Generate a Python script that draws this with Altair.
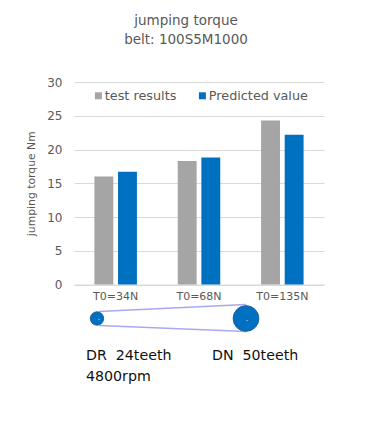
import altair as alt
import pandas as pd

FONT = "DejaVu Sans"
conditions = ["T0=34N", "T0=68N", "T0=135N"]
test_results = [16.0, 18.3, 24.3]
predicted = [16.7, 18.8, 22.2]
series = ["test results", "Predicted value"]
colors = ["#A5A5A5", "#0070C0"]
title_lines = ["jumping torque", "belt: 100S5M1000"]

rows = []
for c, a, b in zip(conditions, test_results, predicted):
    rows.append({"cond": c, "series": series[0], "v": a})
    rows.append({"cond": c, "series": series[1], "v": b})
df = pd.DataFrame(rows)

bars = alt.Chart(df).mark_bar().encode(
    x=alt.X("cond:N", sort=conditions, title=None,
            scale=alt.Scale(paddingInner=0.49, paddingOuter=0.245),
            axis=alt.Axis(labelAngle=0, labelFont=FONT, labelFontSize=11, labelColor="#595959",
                          ticks=False, domain=True, domainColor="#D9D9D9", labelPadding=6)),
    xOffset=alt.XOffset("series:N", sort=series, scale=alt.Scale(paddingInner=0.2)),
    y=alt.Y("v:Q", title="jumping torque Nm",
            scale=alt.Scale(domain=[0, 30]),
            axis=alt.Axis(values=[0, 5, 10, 15, 20, 25, 30], ticks=False, domain=False,
                          grid=True, gridColor="#D9D9D9",
                          labelFont=FONT, labelFontSize=12, labelColor="#595959", labelPadding=12,
                          titleFont=FONT, titleFontSize=10.8, titleFontWeight="normal",
                          titleColor="#595959", titlePadding=10)),
    color=alt.Color("series:N", sort=series, scale=alt.Scale(domain=series, range=colors),
                    legend=alt.Legend(title=None, orient="none", direction="horizontal",
                                      legendX=18, legendY=7, symbolType="square", symbolSize=49,
                                      labelFont=FONT, labelFontSize=12.8, labelColor="#595959",
                                      labelOffset=0, columnPadding=19, symbolStrokeWidth=0)),
)

one = alt.Data(values=[{}])
OX, OY = 74, 82.5

def belt(x1, y1, x2, y2):
    return alt.Chart(one).mark_rule(color="#A9A9F0", strokeWidth=1.5).encode(
        x=alt.value(x1 - OX), x2=alt.value(x2 - OX), y=alt.value(y1 - OY), y2=alt.value(y2 - OY))

def wheel(x, y, r):
    return alt.Chart(one).mark_point(filled=True, shape="circle", color="#0070C0", opacity=1,
                                     stroke="#1F5F99", strokeWidth=1).encode(
        x=alt.value(x - OX), y=alt.value(y - OY), size=alt.value(3.1416 * r * r))

def hub(x, y):
    return alt.Chart(one).mark_point(filled=True, shape="circle", color="#9FC5E8", opacity=1).encode(
        x=alt.value(x - OX), y=alt.value(y - OY), size=alt.value(2))

def label(x, y, s):
    return alt.Chart(one).mark_text(text=s, font=FONT, fontSize=14.2, color="#111111",
                                    align="left", baseline="alphabetic").encode(
        x=alt.value(x - OX), y=alt.value(y - OY))

chart = alt.layer(
    bars,
    belt(99, 312, 246, 305), belt(99, 326, 246, 332),
    wheel(97, 319, 7.5), wheel(246, 319, 14.5), hub(99, 320), hub(247, 321),
    label(86, 360, "DR\u00a0 24teeth"), label(212, 360, "DN\u00a0 50teeth"), label(86, 381, "4800rpm"),
).properties(
    width=250, height=202.5,
    title=alt.TitleParams(text=title_lines, font=FONT, fontSize=13.5, fontWeight="normal", color="#595959",
                          lineHeight=19, anchor="middle", dx=-13, offset=30),
    autosize=alt.AutoSizeParams(type="none"),
    padding={"left": 66, "top": 74, "right": 52, "bottom": 137.5},
).configure_view(stroke=None)

chart.save("out.html", embed_options={"renderer": "svg", "actions": False})
